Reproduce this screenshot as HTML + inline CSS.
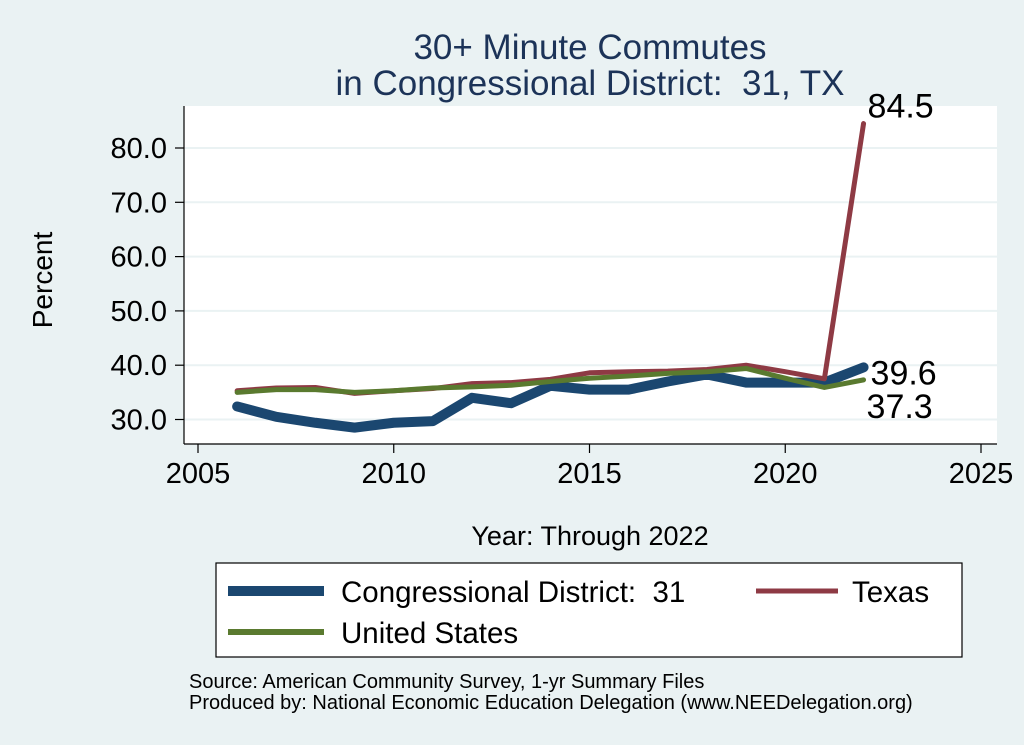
<!DOCTYPE html>
<html><head><meta charset="utf-8"><style>
html,body{margin:0;padding:0;background:#eaf2f3;}
svg{display:block;font-family:"Liberation Sans",Arial,sans-serif;}
text{white-space:pre;}
</style></head><body>
<svg id="chart" width="1024" height="745" viewBox="0 0 1024 745">
<rect x="0" y="0" width="1024" height="745" fill="#eaf2f3"/>
<text x="590" y="59" text-anchor="middle" font-size="35" fill="#1c3358">30+ Minute Commutes</text>
<text x="590" y="95" text-anchor="middle" font-size="35" fill="#1c3358">in Congressional District:&#160; 31, TX</text>
<rect x="184" y="106" width="813" height="338" fill="#fff"/>
<g id="grid"></g>
<g id="series"></g>
<g id="axes"></g>
<text x="52" y="280" text-anchor="middle" font-size="28" fill="#000" transform="rotate(-90 52 280)">Percent</text>
<text x="590" y="545" text-anchor="middle" font-size="27" fill="#000">Year: Through 2022</text>
<g>
<rect x="216" y="563" width="746" height="94" fill="#fff" stroke="#000" stroke-width="1.2"/>
<line x1="228" y1="591" x2="324" y2="591" stroke="#1b4770" stroke-width="10"/>
<text x="341" y="602" font-size="29.5" fill="#000">Congressional District:&#160; 31</text>
<line x1="756" y1="591" x2="838" y2="591" stroke="#8e3a44" stroke-width="5"/>
<text x="852" y="602" font-size="29.5" fill="#000">Texas</text>
<line x1="228" y1="632" x2="324" y2="632" stroke="#5a7a2f" stroke-width="6"/>
<text x="341" y="643" font-size="29.5" fill="#000">United States</text>
</g>
<text x="189" y="688" font-size="20" fill="#000">Source: American Community Survey, 1-yr Summary Files</text>
<text x="189" y="709" font-size="20" fill="#000">Produced by: National Economic Education Delegation (www.NEEDelegation.org)</text>
</svg>
<script>
const years=[2006,2007,2008,2009,2010,2011,2012,2013,2014,2015,2016,2017,2018,2019,2020,2021,2022];
const district=[32.4,30.5,29.4,28.5,29.4,29.7,34.0,33.0,36.2,35.5,35.5,37.0,38.3,36.8,36.8,36.8,39.6];
const texas=[35.3,35.8,35.9,34.8,35.3,35.7,36.6,36.8,37.4,38.6,38.8,38.9,39.2,40.0,38.8,37.5,84.5];
const us=[35.0,35.5,35.5,35.0,35.3,35.8,36.0,36.3,37.0,37.6,38.0,38.5,38.8,39.4,37.6,35.9,37.3];
const yTicks=[30,40,50,60,70,80];
const xTicks=[2005,2010,2015,2020,2025];
const NS="http://www.w3.org/2000/svg";
const X=v=>198+(v-2005)*39.15;
const Y=v=>419.5-(v-30)*5.43;
function mk(tag,attrs,parent){const e=document.createElementNS(NS,tag);for(const k in attrs)e.setAttribute(k,attrs[k]);parent.appendChild(e);return e;}
const grid=document.getElementById('grid'),axes=document.getElementById('axes'),ser=document.getElementById('series');
yTicks.forEach(t=>{
  const g=mk('line',{x1:184,x2:997,y1:Y(t),y2:Y(t),stroke:'#eaf2f3','stroke-width':2},grid);
  
  
  const tk=mk('line',{x1:175,x2:184,y1:Y(t),y2:Y(t),stroke:'#000','stroke-width':1.2},axes);
  
  
  const tx=mk('text',{x:167,y:Y(t)+10,'text-anchor':'end','font-size':29,fill:'#000'},axes);
  tx.textContent=t.toFixed(1);
  
  
});
xTicks.forEach(t=>{
  const tk=mk('line',{x1:X(t),x2:X(t),y1:444,y2:453,stroke:'#000','stroke-width':1.2},axes);
  
  
  const tx=mk('text',{x:X(t),y:483,'text-anchor':'middle','font-size':29,fill:'#000'},axes);
  tx.textContent=t;
  
  
});
const ya=mk('line',{x1:184,x2:184,y1:106,y2:444,stroke:'#000','stroke-width':1.2},axes);


const xa=mk('line',{x1:184,x2:997,y1:444,y2:444,stroke:'#000','stroke-width':1.2},axes);


function line(vals,color,w,name){
  const pts=years.map((y,i)=>X(y)+','+Y(vals[i])).join(' ');
  const p=mk('polyline',{points:pts,fill:'none',stroke:color,'stroke-width':w,'stroke-linejoin':'round','stroke-linecap':'round'},ser);
  
  
}
line(district,'#1b4770',10,'district-line');
line(texas,'#8e3a44',5,'texas-line');
line(us,'#5a7a2f',5,'us-line');
const last=years.length-1;
function lbl(v,dx,dy,name){
  const t=mk('text',{x:X(years[last])+dx,y:Y(v)+dy,'font-size':34,fill:'#000'},ser);
  t.textContent=v.toFixed(1);
  
  
}
lbl(texas[last],4,-6,'texas-end-label');
lbl(district[last],7,17,'district-end-label');
lbl(us[last],3,38,'us-end-label');
</script>
</body></html>
